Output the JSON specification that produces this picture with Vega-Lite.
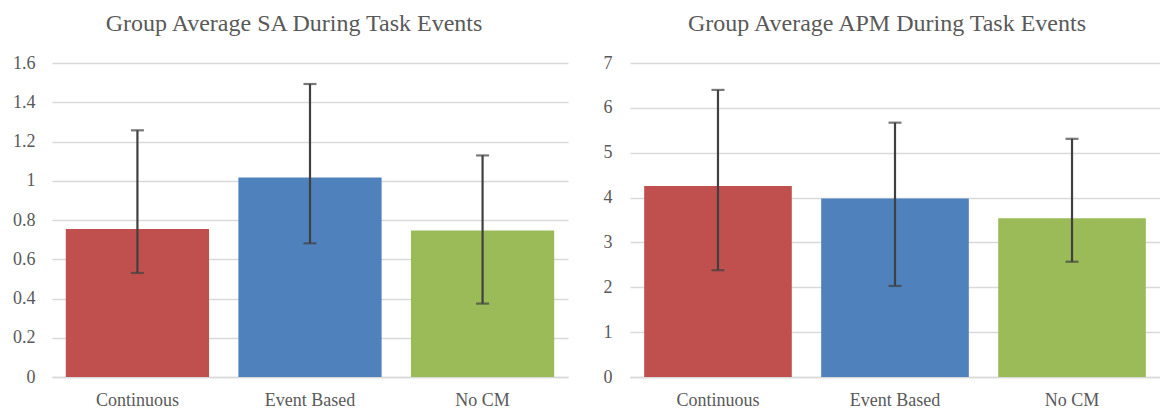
{
  "$schema": "https://vega.github.io/schema/vega-lite/v6.json",
  "background": "white",
  "padding": {"left": 12, "top": 12, "right": 0, "bottom": 0},
  "bounds": "flush",
  "spacing": 62,
  "config": {
    "view": {"stroke": null},
    "font": "DejaVu Serif",
    "axis": {
      "labelFont": "Liberation Serif",
      "labelFontSize": 18,
      "labelColor": "#595959",
      "labelOverlap": false,
      "title": null
    },
    "title": {
      "font": "Liberation Serif",
      "fontSize": 24,
      "fontWeight": "normal",
      "color": "#595959",
      "offset": 18,
      "anchor": "middle"
    }
  },
  "hconcat": [
    {
      "width": 516,
      "height": 314,
      "title": {"text": "Group Average SA During Task Events", "dx": -16, "font": "Liberation Serif"},
      "data": {
        "values": [
          {"group": "Continuous", "mean": 0.754, "low": 0.530, "high": 1.257},
          {"group": "Event Based", "mean": 1.016, "low": 0.681, "high": 1.493},
          {"group": "No CM", "mean": 0.747, "low": 0.374, "high": 1.129}
        ]
      },
      "encoding": {
        "x": {
          "field": "group",
          "type": "nominal",
          "sort": null,
          "scale": {"paddingInner": 0.17, "paddingOuter": 0.08},
          "axis": {"labelAngle": 0, "ticks": false, "domainColor": "#d9d9d9", "domainWidth": 1.5, "labelPadding": 14, "labelFont": "Liberation Serif"}
        }
      },
      "layer": [
        {
          "mark": {"type": "bar"},
          "encoding": {
            "y": {
              "field": "mean",
              "type": "quantitative",
              "scale": {"domain": [0, 1.6], "nice": false},
              "axis": {"values": [0, 0.2, 0.4, 0.6, 0.8, 1, 1.2, 1.4, 1.6], "format": "~g", "domain": false, "ticks": false, "gridColor": "#d9d9d9", "gridWidth": 1.5, "labelPadding": 17, "labelOverlap": false, "labelFont": "Liberation Serif"}
            },
            "color": {
              "field": "group",
              "type": "nominal",
              "scale": {"domain": ["Continuous", "Event Based", "No CM"], "range": ["#C0504D", "#4F81BD", "#9BBB59"]},
              "legend": null
            }
          }
        },
        {
          "mark": {"type": "rule", "color": "#404040", "strokeWidth": 2.2},
          "encoding": {
            "y": {"field": "low", "type": "quantitative", "axis": {"values": [0, 0.2, 0.4, 0.6, 0.8, 1, 1.2, 1.4, 1.6], "format": "~g", "domain": false, "ticks": false, "gridColor": "#d9d9d9", "gridWidth": 1.5, "labelPadding": 17, "labelOverlap": false, "labelFont": "Liberation Serif"}},
            "y2": {"field": "high"}
          }
        },
        {
          "mark": {"type": "tick", "color": "#404040", "size": 13, "thickness": 2.2},
          "encoding": {"y": {"field": "low", "type": "quantitative", "axis": {"values": [0, 0.2, 0.4, 0.6, 0.8, 1, 1.2, 1.4, 1.6], "format": "~g", "domain": false, "ticks": false, "gridColor": "#d9d9d9", "gridWidth": 1.5, "labelPadding": 17, "labelOverlap": false, "labelFont": "Liberation Serif"}}}
        },
        {
          "mark": {"type": "tick", "color": "#404040", "size": 13, "thickness": 2.2},
          "encoding": {"y": {"field": "high", "type": "quantitative", "axis": {"values": [0, 0.2, 0.4, 0.6, 0.8, 1, 1.2, 1.4, 1.6], "format": "~g", "domain": false, "ticks": false, "gridColor": "#d9d9d9", "gridWidth": 1.5, "labelPadding": 17, "labelOverlap": false, "labelFont": "Liberation Serif"}}}
        }
      ]
    },
    {
      "width": 530,
      "height": 314,
      "title": {"text": "Group Average APM During Task Events", "dx": -8, "font": "Liberation Serif"},
      "data": {
        "values": [
          {"group": "Continuous", "mean": 4.26, "low": 2.38, "high": 6.40},
          {"group": "Event Based", "mean": 3.98, "low": 2.03, "high": 5.67},
          {"group": "No CM", "mean": 3.54, "low": 2.57, "high": 5.31}
        ]
      },
      "encoding": {
        "x": {
          "field": "group",
          "type": "nominal",
          "sort": null,
          "scale": {"paddingInner": 0.166, "paddingOuter": 0.08},
          "axis": {"labelAngle": 0, "ticks": false, "domainColor": "#d9d9d9", "domainWidth": 1.5, "labelPadding": 14, "labelFont": "Liberation Serif"}
        }
      },
      "layer": [
        {
          "mark": {"type": "bar"},
          "encoding": {
            "y": {
              "field": "mean",
              "type": "quantitative",
              "scale": {"domain": [0, 7], "nice": false},
              "axis": {"values": [0, 1, 2, 3, 4, 5, 6, 7], "format": "~g", "domain": false, "ticks": false, "gridColor": "#d9d9d9", "gridWidth": 1.5, "labelPadding": 18, "labelOverlap": false, "labelFont": "Liberation Serif"}
            },
            "color": {
              "field": "group",
              "type": "nominal",
              "scale": {"domain": ["Continuous", "Event Based", "No CM"], "range": ["#C0504D", "#4F81BD", "#9BBB59"]},
              "legend": null
            }
          }
        },
        {
          "mark": {"type": "rule", "color": "#404040", "strokeWidth": 2.2},
          "encoding": {
            "y": {"field": "low", "type": "quantitative", "axis": {"values": [0, 1, 2, 3, 4, 5, 6, 7], "format": "~g", "domain": false, "ticks": false, "gridColor": "#d9d9d9", "gridWidth": 1.5, "labelPadding": 18, "labelOverlap": false, "labelFont": "Liberation Serif"}},
            "y2": {"field": "high"}
          }
        },
        {
          "mark": {"type": "tick", "color": "#404040", "size": 13, "thickness": 2.2},
          "encoding": {"y": {"field": "low", "type": "quantitative", "axis": {"values": [0, 1, 2, 3, 4, 5, 6, 7], "format": "~g", "domain": false, "ticks": false, "gridColor": "#d9d9d9", "gridWidth": 1.5, "labelPadding": 18, "labelOverlap": false, "labelFont": "Liberation Serif"}}}
        },
        {
          "mark": {"type": "tick", "color": "#404040", "size": 13, "thickness": 2.2},
          "encoding": {"y": {"field": "high", "type": "quantitative", "axis": {"values": [0, 1, 2, 3, 4, 5, 6, 7], "format": "~g", "domain": false, "ticks": false, "gridColor": "#d9d9d9", "gridWidth": 1.5, "labelPadding": 18, "labelOverlap": false, "labelFont": "Liberation Serif"}}}
        }
      ]
    }
  ]
}
